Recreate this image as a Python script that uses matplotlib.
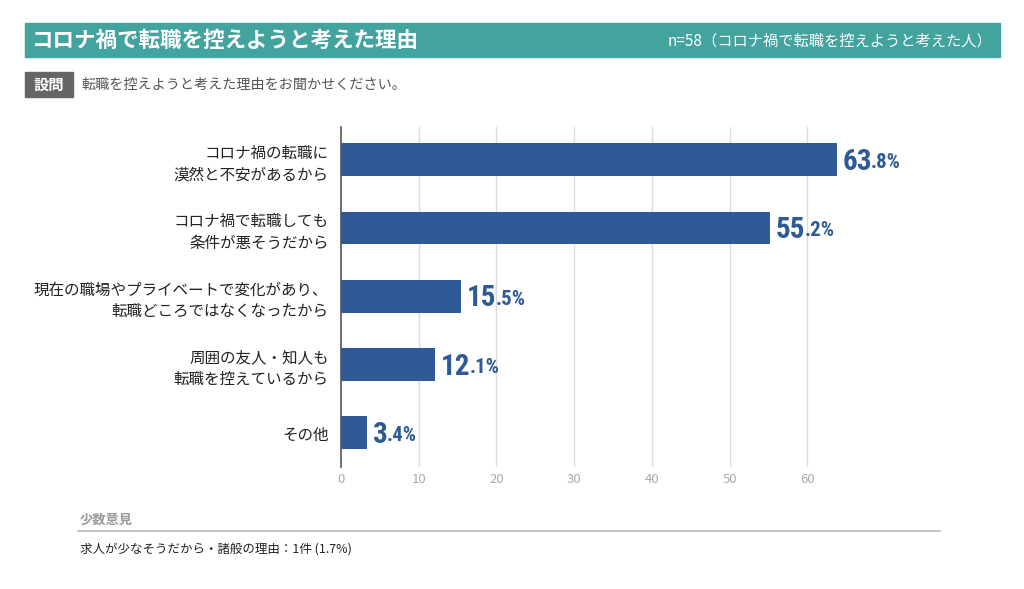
import matplotlib
matplotlib.use("Agg")
import matplotlib.pyplot as plt
from matplotlib.patches import Rectangle
from matplotlib.lines import Line2D

plt.rcParams['font.family'] = ['Noto Sans CJK JP', 'DejaVu Sans']

categories = [
    "コロナ禍の転職に\n漠然と不安があるから",
    "コロナ禍で転職しても\n条件が悪そうだから",
    "現在の職場やプライベートで変化があり、\n転職どころではなくなったから",
    "周囲の友人・知人も\n転職を控えているから",
    "その他",
]
values = [63.8, 55.2, 15.5, 12.1, 3.4]
xticks = [0, 10, 20, 30, 40, 50, 60]

title = "コロナ禍で転職を控えようと考えた理由"
subtitle = "n=58（コロナ禍で転職を控えようと考えた人）"
question_tag = "設問"
question = "転職を控えようと考えた理由をお聞かせください。"
minority_head = "少数意見"
minority_text = "求人が少なそうだから・諸般の理由：1件 (1.7%)"

W, H = 1024, 589
fig = plt.figure(figsize=(W / 100, H / 100), dpi=100)

def fx(px):
    return px / W

def fy(py):
    return 1 - py / H

bar_color = "#2F5A96"
teal = "#42A39F"

# banner
fig.patches.append(Rectangle((fx(25), fy(57)), fx(1000) - fx(25), fy(23) - fy(57),
                             transform=fig.transFigure, color=teal, zorder=0))
fig.text(fx(32), fy(40), title, color="white", fontsize=15.5, fontweight="bold",
         va="center", ha="left")
fig.text(fx(992), fy(41), subtitle, color="white", fontsize=11,
         va="center", ha="right")

# question
fig.patches.append(Rectangle((fx(25), fy(97)), fx(73) - fx(25), fy(72) - fy(97),
                             transform=fig.transFigure, color="#666666", zorder=0))
fig.text(fx(49), fy(85), question_tag, color="white", fontsize=11, fontweight="bold",
         va="center", ha="center")
fig.text(fx(81), fy(85), question, color="#555555", fontsize=10.2,
         va="center", ha="left")

# axes
xmax = 66
left, right = 341, 341 + xmax * 7.77
top, bottom = 127, 467
ax = fig.add_axes([fx(left), fy(bottom), fx(right) - fx(left), fy(top) - fy(bottom)])
y = list(range(len(categories)))
ax.barh(y, values, height=0.48, color=bar_color, zorder=3)
ax.set_xlim(0, xmax)
ax.set_ylim(4.5, -0.48)
ax.set_xticks(xticks)
ax.set_xticklabels([str(t) for t in xticks], color="#aaaaaa", fontsize=9.5)
ax.tick_params(axis="x", length=0, pad=4)
ax.set_yticks(y)
ax.set_yticklabels(categories, fontsize=11.2, color="#222222", linespacing=1.35)
ax.tick_params(axis="y", length=0, pad=9)
for s in ["top", "right", "bottom"]:
    ax.spines[s].set_visible(False)
ax.spines["left"].set_color("#555555")
ax.spines["left"].set_linewidth(1.2)
ax.spines["left"].set_zorder(4)
for t in xticks[1:]:
    ax.axvline(t, color="#dddddd", linewidth=1.0, zorder=1)

num_font = ['Roboto Condensed', 'DejaVu Sans Condensed', 'Liberation Sans Narrow',
            'Roboto', 'DejaVu Sans']
for yi, v in zip(y, values):
    whole, frac = f"{v:.1f}".split(".")
    t1 = ax.annotate(whole, xy=(v, yi), xytext=(4, -1.5), textcoords="offset points",
                     color=bar_color, fontsize=21, fontweight="bold",
                     fontstretch="condensed", family=num_font,
                     va="center", ha="left")
    fig.canvas.draw()
    ax.annotate("." + frac + "%", xy=(1, 0), xycoords=t1, xytext=(-0.5, 2.8),
                textcoords="offset points", color=bar_color, fontsize=15,
                fontweight="bold", fontstretch="condensed", family=num_font,
                va="bottom", ha="left")

# minority opinions
fig.text(fx(80), fy(520), minority_head, color="#999999", fontsize=9.5,
         fontweight="bold", va="center", ha="left")
fig.lines.append(Line2D([fx(78), fx(940)], [fy(531), fy(531)],
                        transform=fig.transFigure, color="#bbbbbb", linewidth=1.2))
fig.text(fx(80), fy(549), minority_text, color="#222222", fontsize=9,
         va="center", ha="left")

fig.savefig("out.png", dpi=100, facecolor="white")
